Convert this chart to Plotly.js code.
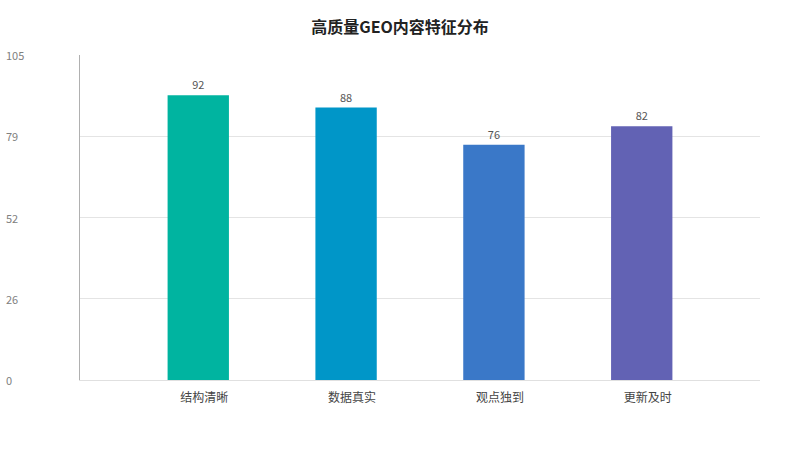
<!DOCTYPE html>
<html>
<head>
<meta charset="utf-8">
<script src="https://cdn.plot.ly/plotly-3.0.1.min.js"></script>
<style>
  html, body { margin: 0; padding: 0; background: #fff; }
  #chart { width: 800px; height: 450px; }
</style>
</head>
<body>
<div id="chart"></div>
<script>
// chart data
var categories = ["结构清晰", "数据真实", "观点独到", "更新及时"];
var values = [92, 88, 76, 82];
var barColors = ["#00b4a0", "#0096c8", "#3a78c8", "#6262b4"];
var tickVals = [0, 26.25, 52.5, 78.75, 105];
var tickText = ["0", "26", "52", "79", "105"];

var font = "Noto Sans CJK SC, Microsoft YaHei, sans-serif";

var bars = {
  type: "bar",
  x: categories,
  y: values,
  width: 0.415,
  marker: { color: barColors },
  text: values.map(String),
  textposition: "outside",
  textfont: { size: 11, color: "#555", family: font },
  cliponaxis: false,
  hoverinfo: "x+y"
};

// y tick labels sit flush left, so draw them as annotations on the y scale
var tickNotes = tickVals.map(function (v, i) {
  return {
    xref: "paper", yref: "y",
    x: -0.1125, y: v,
    xanchor: "left", yanchor: "middle",
    text: tickText[i],
    showarrow: false,
    font: { size: 11, color: "#808080", family: font }
  };
});

var layout = {
  width: 800,
  height: 450,
  margin: { l: 80, r: 40, t: 55, b: 70 },
  paper_bgcolor: "#fff",
  plot_bgcolor: "#fff",
  title: {
    text: "<b>高质量GEO内容特征分布</b>",
    x: 0.5, xanchor: "center",
    y: 0.94, yanchor: "middle",
    font: { size: 16, color: "#222", family: font }
  },
  xaxis: {
    range: [-0.8, 3.8],
    showgrid: false,
    zeroline: false,
    showline: true,
    linecolor: "#e0e0e0",
    linewidth: 1,
    ticks: "",
    ticklabelshift: 6,
    ticklabelstandoff: 7,
    tickfont: { size: 12, color: "#444", family: font }
  },
  yaxis: {
    range: [0, 105],
    tickvals: tickVals,
    showticklabels: false,
    showgrid: true,
    gridcolor: "#e4e4e4",
    zeroline: false,
    showline: true,
    linecolor: "#b0b0b0",
    linewidth: 1
  },
  annotations: tickNotes,
  showlegend: false
};

Plotly.newPlot("chart", [bars], layout, { displayModeBar: false });
</script>
</body>
</html>
